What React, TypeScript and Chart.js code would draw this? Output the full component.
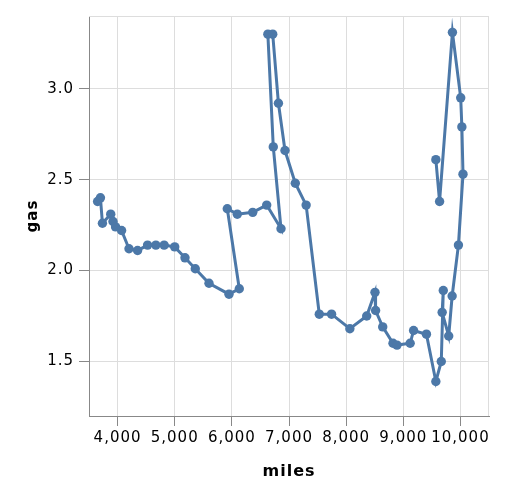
import React, { useEffect, useRef } from 'react';
import { Chart, registerables } from 'chart.js';

Chart.register(...registerables);

const YEARS = [
  1956, 1957, 1958, 1959, 1960, 1961, 1962, 1963, 1964, 1965, 1966, 1967, 1968, 1969, 1970,
  1971, 1972, 1973, 1974, 1975, 1976, 1977, 1978, 1979, 1980, 1981, 1982, 1983, 1984, 1985,
  1986, 1987, 1988, 1989, 1990, 1991, 1992, 1993, 1994, 1995, 1996, 1997, 1998, 1999, 2000,
  2001, 2002, 2003, 2004, 2005, 2006, 2007, 2008, 2009, 2010,
];

const MILES = [
  3650, 3700, 3735, 3880, 3920, 3965, 4070, 4200, 4350, 4525, 4670, 4815, 5000, 5180, 5360,
  5600, 5950, 6130, 5920, 6095, 6365, 6610, 6860, 6725, 6630, 6715, 6815, 6930, 7110, 7300,
  7530, 7745, 8065, 8360, 8505, 8515, 8640, 8820, 8890, 9120, 9180, 9405, 9570, 9665, 9700,
  9680, 9795, 9855, 9965, 10045, 10025, 10005, 9860, 9635, 9570,
];

const GAS = [
  2.38, 2.4, 2.26, 2.31, 2.27, 2.24, 2.22, 2.12, 2.11, 2.14, 2.14, 2.14, 2.13, 2.07, 2.01,
  1.93, 1.87, 1.9, 2.34, 2.31, 2.32, 2.36, 2.23, 2.68, 3.3, 3.3, 2.92, 2.66, 2.48, 2.36,
  1.76, 1.76, 1.68, 1.75, 1.88, 1.78, 1.69, 1.6, 1.59, 1.6, 1.67, 1.65, 1.39, 1.5, 1.89,
  1.77, 1.64, 1.86, 2.14, 2.53, 2.79, 2.95, 3.31, 2.38, 2.61,
];

const X_TICKS = [4000, 5000, 6000, 7000, 8000, 9000, 10000];
const Y_TICKS = [1.5, 2.0, 2.5, 3.0];
const X_DOMAIN = [3500, 10500];
const Y_DOMAIN = [1.2, 3.4];
const X_TITLE = 'miles';
const Y_TITLE = 'gas';

export default function App() {
  const ref = useRef<HTMLCanvasElement>(null);

  useEffect(() => {
    const canvas = ref.current;
    if (!canvas) return;
    const LS = '1px';
    const spacing = {
      id: 'spacing',
      beforeLayout(c: any) { c.ctx.letterSpacing = LS; },
      beforeDraw(c: any) { c.ctx.letterSpacing = LS; },
    };
    const frame = {
      id: 'frame',
      beforeDatasetsDraw(c: any) {
        const { ctx, chartArea } = c;
        const { left, right, top, bottom } = chartArea;
        ctx.save();
        ctx.strokeStyle = '#ddd';
        ctx.lineWidth = 1;
        ctx.beginPath();
        ctx.moveTo(left, top + 0.5);
        ctx.lineTo(right, top + 0.5);
        ctx.moveTo(right - 0.5, top);
        ctx.lineTo(right - 0.5, bottom);
        ctx.stroke();
        ctx.restore();
      },
    };

    const color = '#4c78a8';
    const data = YEARS.map((_, i) => ({ x: MILES[i], y: GAS[i] }));

    const chart = new Chart(canvas, {
      type: 'scatter',
      data: {
        datasets: [
          {
            data,
            showLine: true,
            borderColor: color,
            borderWidth: 3,
            borderJoinStyle: 'miter',
            backgroundColor: color,
            pointBackgroundColor: color,
            pointBorderWidth: 0,
            pointRadius: 4.7,
            pointHoverRadius: 4.7,
            clip: false as any,
          } as any,
        ],
      },
      options: {
        responsive: false,
        animation: false,
        events: [],
        layout: { padding: { left: 0, right: 27, top: 16, bottom: 0 } },
        plugins: { legend: { display: false }, tooltip: { enabled: false } },
        scales: {
          x: {
            type: 'linear',
            min: X_DOMAIN[0],
            max: X_DOMAIN[1],
            afterBuildTicks: (s: any) => { s.ticks = X_TICKS.map((v) => ({ value: v })); },
            afterFit: (s: any) => { s.height = 76; s.paddingLeft = 0; s.paddingRight = 0; },
            grid: { color: '#ddd', lineWidth: 1, tickColor: '#888', tickLength: 10, drawTicks: true },
            border: { display: true, color: '#888', width: 1 },
            ticks: {
              color: '#000',
              font: { family: 'DejaVu Sans', size: 15 },
              padding: 3,
              maxRotation: 0,
              minRotation: 0,
              autoSkip: false,
              callback: (v: any) => Number(v).toLocaleString('en-US'),
            },
            title: {
              display: true,
              text: X_TITLE,
              color: '#000',
              font: { family: 'DejaVu Sans', size: 16, weight: 'bold' },
              padding: { top: 0, bottom: 11 },
            },
          },
          y: {
            type: 'linear',
            min: Y_DOMAIN[0],
            max: Y_DOMAIN[1],
            afterBuildTicks: (s: any) => { s.ticks = Y_TICKS.map((v) => ({ value: v })); },
            afterFit: (s: any) => { s.width = 89; s.paddingTop = 0; s.paddingBottom = 0; },
            grid: { color: '#ddd', lineWidth: 1, tickColor: '#888', tickLength: 10, drawTicks: true },
            border: { display: true, color: '#888', width: 1 },
            ticks: {
              color: '#000',
              font: { family: 'DejaVu Sans', size: 15 },
              padding: 5,
              callback: (v: any) => Number(v).toFixed(1),
            },
            title: {
              display: true,
              text: Y_TITLE,
              color: '#000',
              font: { family: 'DejaVu Sans', size: 15, weight: 'bold' },
              padding: { top: 24, bottom: 0 },
            },
          },
        },
      },
      plugins: [spacing, frame],
    });

    return () => chart.destroy();
  }, []);

  return (
    <canvas
      ref={ref}
      width={516}
      height={492}
      style={{ position: 'absolute', left: 0, top: 0, width: 516, height: 492, display: 'block' }}
    />
  );
}
